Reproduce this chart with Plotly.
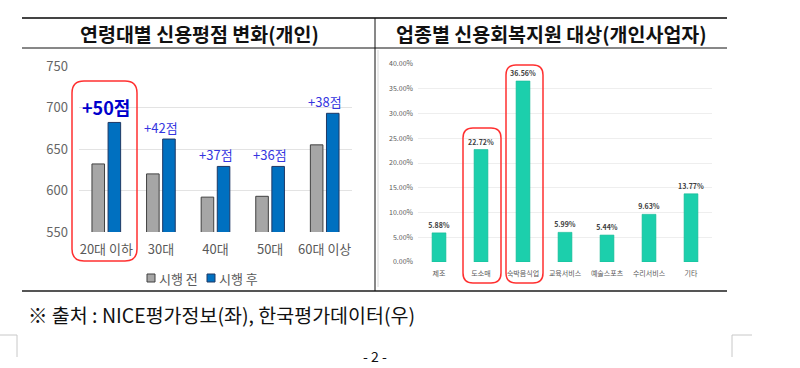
import plotly.graph_objects as go

W, H = 800, 368

# ---- data ----
age_groups = ["20대 이하", "30대", "40대", "50대", "60대 이상"]
score_before = [632, 620, 592, 593, 655]
score_after = [682, 662, 629, 629, 693]
diff_labels = ["+50점", "+42점", "+37점", "+36점", "+38점"]
score_ticks = [550, 600, 650, 700, 750]

industries = ["제조", "도소매", "숙박음식업", "교육서비스", "예술스포츠", "수리서비스", "기타"]
industry_share = [5.88, 22.72, 36.56, 5.99, 5.44, 9.63, 13.77]
share_ticks = [0, 5, 10, 15, 20, 25, 30, 35, 40]
share_ticklabels = ["0.00%", "5.00%", "10.00%", "15.00%", "20.00%", "25.00%", "30.00%", "35.00%", "40.00%"]

left_title = "연령대별 신용평점 변화(개인)"
right_title = "업종별 신용회복지원 대상(개인사업자)"
source_text = "※ 출처 : NICE평가정보(좌), 한국평가데이터(우)"
series_names = ["시행 전", "시행 후"]
series_colors = ["#a6a6a6", "#0070c0"]
series_edges = ["#404040", "#1f3864"]

FONT = "Noto Sans CJK KR"


def X(px):
    return px / W


def Y(py):
    return 1 - py / H


fig = go.Figure()

for name, vals, col, edge in zip(series_names, [score_before, score_after], series_colors, series_edges):
    fig.add_trace(go.Bar(x=age_groups, y=vals, name=name, showlegend=False,
                         marker=dict(color=col, line=dict(color=edge, width=1)),
                         xaxis="x", yaxis="y"))

fig.add_trace(go.Bar(x=industries, y=industry_share, showlegend=False,
                     marker=dict(color="#1ccfac", line=dict(color="#15b896", width=0.6)),
                     texttemplate="%{y:.2f}%", textposition="outside", constraintext="none",
                     textfont=dict(size=7, color="#404040", family=FONT, weight="bold"),
                     cliponaxis=False, xaxis="x2", yaxis="y2", width=0.33))

annotations = []
for i, (cat, val, lab) in enumerate(zip(age_groups, score_after, diff_labels)):
    if i == 0:
        f = dict(size=18, color="#0000cc", family=FONT, weight="bold")
        ys = 0
    else:
        f = dict(size=13, color="#3535e0", family=FONT)
        ys = 0
    annotations.append(dict(x=cat, y=val, xref="x", yref="y", text=lab, showarrow=False,
                             yanchor="bottom", yshift=ys, font=f))

annotations += [
    dict(x=X(199), y=Y(33), xref="paper", yref="paper", text=left_title, showarrow=False,
         font=dict(size=19.5, color="#111111", family=FONT, weight="bold"), xanchor="center", yanchor="middle"),
    dict(x=X(551), y=Y(33), xref="paper", yref="paper", text=right_title, showarrow=False,
         font=dict(size=19.5, color="#111111", family=FONT, weight="bold"), xanchor="center", yanchor="middle"),
    dict(x=X(26), y=Y(314), xref="paper", yref="paper", text=source_text, showarrow=False,
         font=dict(size=19.5, color="#111111", family=FONT), xanchor="left", yanchor="middle"),
    dict(x=X(375), y=Y(368), xref="paper", yref="paper", text="- 2 -", showarrow=False,
         font=dict(size=14, color="#111111", family=FONT), xanchor="center", yanchor="bottom"),
]

# manual legend (text + swatches)
leg_x = [147, 207]
for name, lx in zip(series_names, leg_x):
    annotations.append(dict(x=X(lx + 10), y=Y(278), xref="paper", yref="paper", text=name, showarrow=False,
                            font=dict(size=13, color="#595959", family=FONT), xanchor="left", yanchor="middle"))


def rounded(x0, y0, x1, y1, r):
    rx, ry = r / W, r / H
    a0, b0, a1, b1 = X(x0), Y(y1), X(x1), Y(y0)
    return (f"M {a0+rx},{b1} L {a1-rx},{b1} Q {a1},{b1} {a1},{b1-ry} "
            f"L {a1},{b0+ry} Q {a1},{b0} {a1-rx},{b0} L {a0+rx},{b0} "
            f"Q {a0},{b0} {a0},{b0+ry} L {a0},{b1-ry} Q {a0},{b1} {a0+rx},{b1} Z")


def line(x0, y0, x1, y1, color, width):
    return dict(type="line", xref="paper", yref="paper", x0=X(x0), y0=Y(y0), x1=X(x1), y1=Y(y1),
                line=dict(color=color, width=width), layer="above")


shapes = [
    line(22, 18, 727, 18, "#444444", 2),
    line(22, 48, 727, 48, "#111111", 1),
    line(22, 291, 727, 291, "#555555", 2),
    line(375, 18, 375, 291, "#111111", 1),
    line(378, 50, 378, 287, "#d8d8d8", 1),
    line(0, 335, 17, 335, "#c8c8c8", 1),
    line(17, 335, 17, 357, "#c8c8c8", 1),
    line(732, 335, 752, 335, "#c8c8c8", 1),
    line(732, 335, 732, 357, "#c8c8c8", 1),
]
for (x0, y0, x1, y1, r) in [(72, 81, 137, 261, 12), (463, 128, 501, 283, 10), (506, 65, 543, 283, 10)]:
    shapes.append(dict(type="path", xref="paper", yref="paper", path=rounded(x0, y0, x1, y1, r),
                       line=dict(color="#ff3030", width=1.5), fillcolor="rgba(0,0,0,0)", layer="above"))
for lx, col, edge in zip(leg_x, series_colors, series_edges):
    shapes.append(dict(type="rect", xref="paper", yref="paper", x0=X(lx), x1=X(lx + 8),
                       y0=Y(282), y1=Y(274), fillcolor=col, line=dict(color=edge, width=1)))

fig.update_layout(
    template="none",
    width=W, height=H, margin=dict(l=0, r=0, t=0, b=0, pad=0, autoexpand=False),
    paper_bgcolor="white", plot_bgcolor="white",
    font=dict(family=FONT, color="#595959"),
    barmode="group", bargap=0.41, bargroupgap=0.22,
    showlegend=False,
    xaxis=dict(domain=[X(79), X(352)], anchor="y", showgrid=False, showline=False, ticks="",
               tickfont=dict(size=13, color="#595959", family=FONT), ticklabelstandoff=8,
               automargin=False, zeroline=False),
    yaxis=dict(domain=[Y(232), Y(66)], anchor="x", range=[550, 750], tickvals=score_ticks,
               showgrid=True, gridcolor="#e3e3e3", gridwidth=1, zeroline=False, showline=False, ticks="",
               tickfont=dict(size=13, color="#666666", family=FONT), ticklabelstandoff=10,
               automargin=False),
    xaxis2=dict(domain=[X(418), X(712)], anchor="y2", showgrid=False, showline=False, ticks="",
                tickfont=dict(size=7, color="#595959", family=FONT), automargin=False, zeroline=False,
                ticklabelstandoff=6),
    yaxis2=dict(domain=[Y(262), Y(64)], anchor="x2", range=[0, 40], tickvals=share_ticks,
                ticktext=share_ticklabels, showgrid=True, gridcolor="#eeeeee", gridwidth=1, ticks="",
                zeroline=False, showline=False, tickfont=dict(size=7, color="#595959", family=FONT),
                ticklabelstandoff=4, automargin=False),
    annotations=annotations,
    shapes=shapes,
)

fig.write_html("out.html", config={"displayModeBar": False},
               post_script="document.body.style.margin='0';document.body.style.padding='0';")
